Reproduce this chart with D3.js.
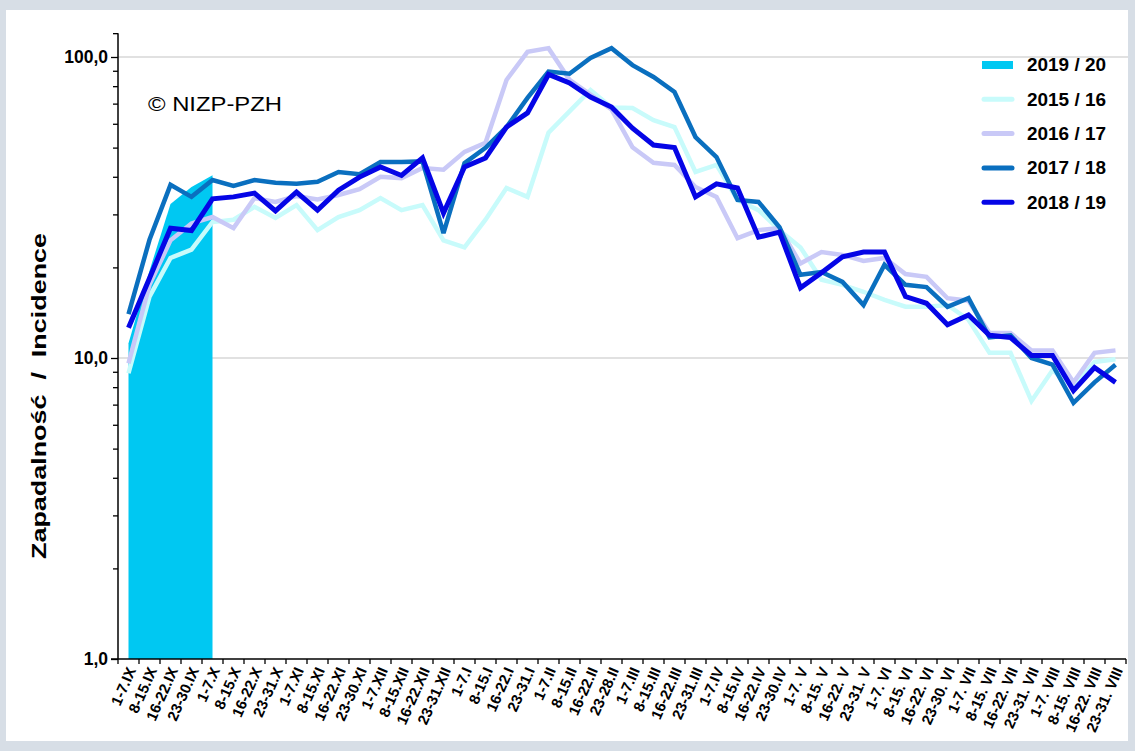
<!DOCTYPE html>
<html>
<head>
<meta charset="utf-8">
<script src="https://cdn.jsdelivr.net/npm/d3@7"></script>
<style>
  body { margin: 0; background: #d7dee6; }
  svg { display: block; font-family: Arial, "Liberation Sans", sans-serif; }
</style>
</head>
<body>
<svg id="chart" width="1135" height="751"></svg>
<script>
// week labels (season from september to august)
var weeks = ["1-7.IX", "8-15.IX", "16-22.IX", "23-30.IX", "1-7.X", "8-15.X", "16-22.X", "23-31.X",
  "1-7.XI", "8-15.XI", "16-22.XI", "23-30.XI", "1-7.XII", "8-15.XII", "16-22.XII", "23-31.XII",
  "1-7.I", "8-15.I", "16-22.I", "23-31.I", "1-7.II", "8-15.II", "16-22.II", "23-28.II",
  "1-7.III", "8-15.III", "16-22.III", "23-31.III", "1-7.IV", "8-15.IV", "16-22.IV", "23-30.IV",
  "1-7. V", "8-15. V", "16-22. V", "23-31. V", "1-7. VI", "8-15. VI", "16-22. VI", "23-30. VI",
  "1-7. VII", "8-15. VII", "16-22. VII", "23-31. VII", "1-7. VIII", "8-15. VIII", "16-22. VIII", "23-31. VIII"];

var season1920 = [11.2, 19.5, 32.5, 37, 40.5];

var season1516 = [8.9, 16, 21.5, 22.9, 28.3, 28.8, 31.8, 29.2, 32.2, 26.6, 29.4, 31, 34, 31, 32.2, 24.6,
  23.3, 28.8, 36.7, 34.3, 56, 66, 77.6, 68, 67.7, 61.7, 58.5, 41.5, 43.8, 33.5, 31, 26.6,
  23.3, 18.2, 17.5, 16.6, 15.6, 14.8, 14.8, 15, 13.4, 10.4, 10.4, 7.2, 9.1, 8.0, 9.7, 9.9];

var season1617 = [9.6, 17.5, 24.6, 28, 29.4, 27, 34, 33, 34.5, 33.6, 34.8, 36.4, 40, 39.6, 42.8, 42.2,
  48.4, 51.9, 83.9, 104, 107, 84, 75, 67, 50.1, 44.5, 43.8, 37, 34.3, 25, 26.6, 27,
  20.6, 22.5, 22, 21, 21.5, 19, 18.6, 15.8, 15.5, 12.1, 12.1, 10.6, 10.6, 8.3, 10.4, 10.6];

var season1718 = [14, 24.7, 37.6, 34.3, 39, 37.3, 39, 38.2, 37.9, 38.5, 41.5, 40.8, 44.8, 44.8, 45, 26,
  44.4, 49.9, 58.5, 73.1, 89.5, 88, 99.3, 107, 94, 85.8, 76.5, 54.2, 46.5, 33.5, 33, 27.2,
  18.9, 19.3, 17.9, 15, 20.4, 17.5, 17.2, 14.8, 15.8, 11.7, 11.9, 10, 9.5, 7.1, 8.3, 9.5];

var season1819 = [12.6, 18.4, 27, 26.5, 33.8, 34.3, 35.3, 30.8, 35.6, 31, 36.1, 39.9, 43.1, 40.4, 46.2, 30.3,
  43.1, 46.2, 58.5, 65.2, 87.5, 82, 73.6, 68.2, 58, 51, 50, 34.3, 37.9, 36.7, 25.2, 26.2,
  17.1, 19.2, 21.7, 22.5, 22.5, 16, 15.2, 12.9, 13.9, 11.9, 11.7, 10.2, 10.2, 7.8, 9.3, 8.3];

var seasonNames = ["2019 / 20", "2015 / 16", "2016 / 17", "2017 / 18", "2018 / 19"];
var majorTicks = [1, 10, 100];
var minorTicks = [2, 3, 4, 5, 6, 7, 8, 9, 20, 30, 40, 50, 60, 70, 80, 90];
var yTop = 120;

(function () {
    "use strict";

    var svg = d3.select("#chart"),
        left = 118, right = 1126, bottom = 659, top = 57;

    var colors = {
        "2019 / 20": "#00c8f2",
        "2015 / 16": "#c8fbfb",
        "2016 / 17": "#c9c9f7",
        "2017 / 18": "#0a6fbf",
        "2018 / 19": "#0505e6"
    };

    // white panel on the grey frame
    svg.append("rect").attr("x", 6).attr("y", 10).attr("width", 1122).attr("height", 731).attr("fill", "#ffffff");

    var x = d3.scaleBand().domain(weeks).range([left, right]);
    var y = d3.scaleLog().domain([1, 100]).range([bottom, top]);
    var cx = function (d) { return x(d) + x.bandwidth() / 2; };

    // gridlines at 10 and 100
    svg.append("g").selectAll("line").data([10, 100]).enter().append("line")
        .attr("x1", left).attr("x2", 1128)
        .attr("y1", function (d) { return y(d); })
        .attr("y2", function (d) { return y(d); })
        .attr("stroke", "#c4c4c4").attr("stroke-width", 1.2);

    // 2019/20 as area
    var area = d3.area()
        .x(function (d, i) { return cx(weeks[i]); })
        .y0(bottom)
        .y1(function (d) { return y(d); });
    svg.append("path").datum(season1920).attr("d", area).attr("fill", colors["2019 / 20"]);

    var line = d3.line()
        .x(function (d, i) { return cx(weeks[i]); })
        .y(function (d) { return y(d); })
        .curve(d3.curveLinear);

    var lines = [
        {name: "2015 / 16", values: season1516, width: 4.5},
        {name: "2016 / 17", values: season1617, width: 4.5},
        {name: "2017 / 18", values: season1718, width: 4.5},
        {name: "2018 / 19", values: season1819, width: 5}
    ];
    for (let i = 0; i < lines.length; i++) {
        svg.append("path").datum(lines[i].values)
            .attr("d", line)
            .attr("fill", "none")
            .attr("stroke", colors[lines[i].name])
            .attr("stroke-width", lines[i].width)
            .attr("stroke-linejoin", "miter")
            .attr("stroke-miterlimit", 3);
    }

    // y axis
    var comma = d3.formatLocale({decimal: ",", thousands: " ", grouping: [3], currency: ["", ""]}).format(".1f");
    var yAxis = svg.append("g").attr("transform", "translate(" + left + ",0)");
    yAxis.call(d3.axisLeft(y).tickValues(majorTicks).tickFormat(comma).tickSize(7).tickSizeOuter(0).tickPadding(3));
    yAxis.select(".domain").remove();
    yAxis.selectAll("line").attr("stroke", "#000").attr("stroke-width", 1.3);
    yAxis.selectAll("text").attr("font-size", 17.5).attr("font-weight", "bold").attr("fill", "#000");
    var yMinor = svg.append("g").attr("transform", "translate(" + left + ",0)");
    yMinor.call(d3.axisLeft(y).tickValues(minorTicks.concat([yTop])).tickFormat("").tickSize(5).tickSizeOuter(0));
    yMinor.select(".domain").remove();
    yMinor.selectAll("line").attr("stroke", "#000").attr("stroke-width", 1.3);
    svg.append("line").attr("x1", left).attr("x2", left)
        .attr("y1", y(yTop)).attr("y2", bottom)
        .attr("stroke", "#000").attr("stroke-width", 1.5);

    // x axis
    svg.append("line").attr("x1", left - 7).attr("x2", right)
        .attr("y1", bottom).attr("y2", bottom)
        .attr("stroke", "#000").attr("stroke-width", 1.5);
    var bounds = weeks.map(function (w) { return x(w); }).concat([x.range()[1]]);
    svg.append("g").selectAll("line").data(bounds).enter().append("line")
        .attr("x1", function (d) { return d; }).attr("x2", function (d) { return d; })
        .attr("y1", bottom).attr("y2", bottom + 5)
        .attr("stroke", "#000").attr("stroke-width", 1.3);
    svg.append("g").selectAll("text").data(weeks).enter().append("text")
        .attr("transform", function (d) { return "translate(" + (cx(d) + 3) + "," + (bottom + 9) + ") rotate(-66)"; })
        .attr("text-anchor", "end")
        .attr("dy", "0.35em")
        .attr("font-size", 15)
        .attr("font-weight", "bold")
        .text(function (d) { return d; });

    // axis title
    svg.append("text")
        .attr("transform", "translate(46,396) rotate(-90)")
        .attr("text-anchor", "middle")
        .attr("font-size", 20)
        .attr("font-weight", "bold")
        .attr("xml:space", "preserve")
        .attr("textLength", 326)
        .attr("lengthAdjust", "spacingAndGlyphs")
        .text("Zapadalność  /  Incidence");

    svg.append("text").attr("x", 148).attr("y", 111)
        .attr("font-size", 20)
        .attr("textLength", 134)
        .attr("lengthAdjust", "spacingAndGlyphs")
        .text("© NIZP-PZH");

    // legend
    var legend = svg.append("g").attr("transform", "translate(982,65)");
    for (let i = 0; i < seasonNames.length; i++) {
        var row = legend.append("g").attr("transform", "translate(0," + (i * 34.3) + ")");
        if (i === 0) {
            row.append("rect").attr("x", 0).attr("y", -4).attr("width", 31).attr("height", 8)
                .attr("fill", colors[seasonNames[i]]);
        } else {
            row.append("line").attr("x1", 2).attr("x2", 30).attr("y1", 0).attr("y2", 0)
                .attr("stroke", colors[seasonNames[i]]).attr("stroke-width", 5)
                .attr("stroke-linecap", "round");
        }
        row.append("text").attr("x", 45).attr("dy", "0.35em")
            .attr("font-size", 18.5).attr("font-weight", "bold")
            .attr("textLength", 79)
            .attr("lengthAdjust", "spacingAndGlyphs")
            .text(seasonNames[i]);
    }
})();
</script>
</body>
</html>
